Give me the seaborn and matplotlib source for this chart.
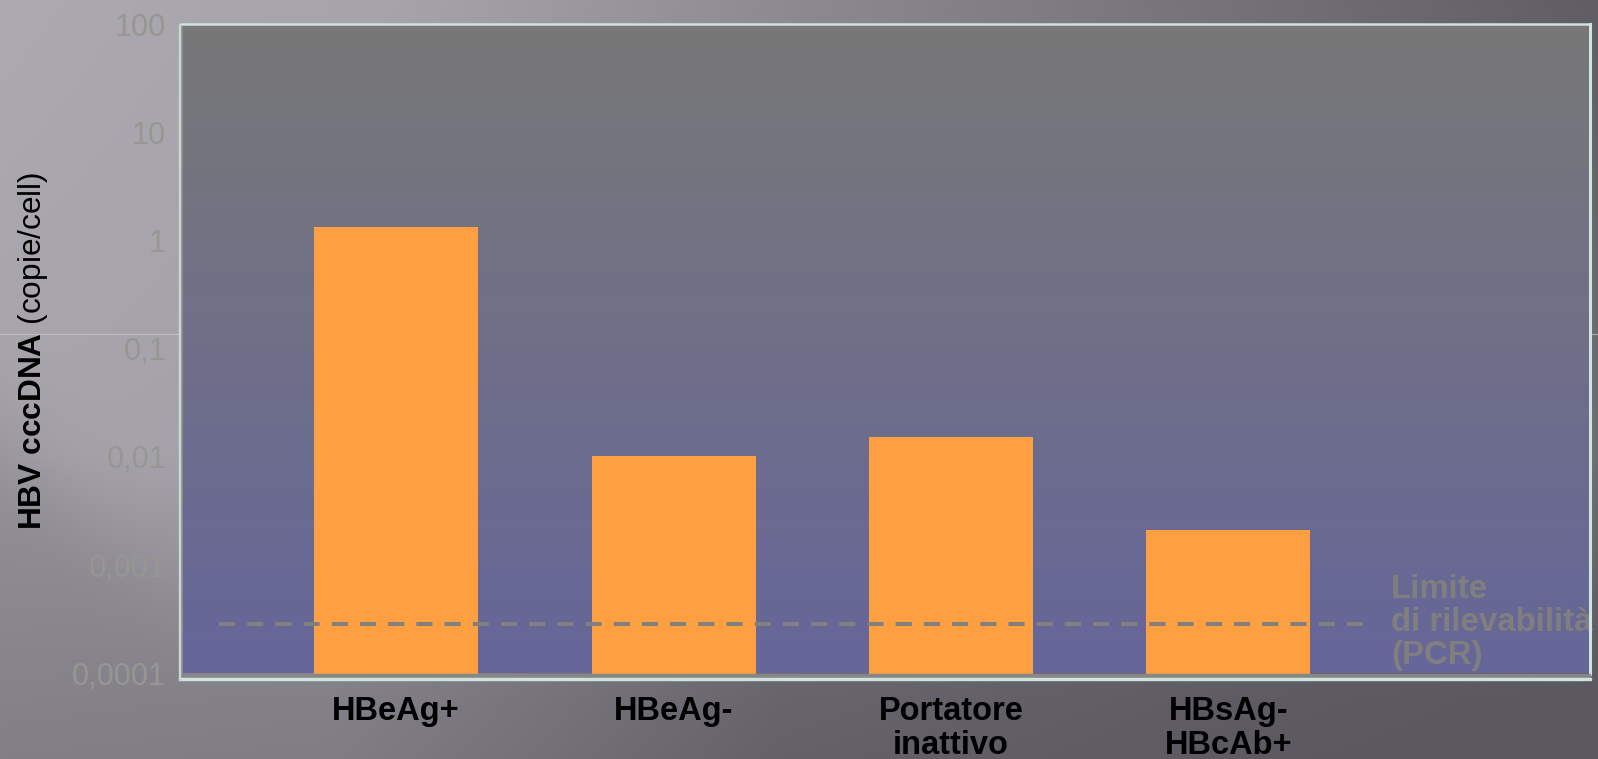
import numpy as np
import matplotlib
matplotlib.use("Agg")
import matplotlib.pyplot as plt
from matplotlib.patches import Rectangle
from matplotlib.ticker import NullLocator
import seaborn as sns

# ---- data -------------------------------------------------------------
categories = ["HBeAg+", "HBeAg-", "Portatore\ninattivo", "HBsAg-\nHBcAb+"]
cccdna_copies = [1.33, 0.0102, 0.0153, 0.00212]
detection_limit = 0.000286
limit_label = "Limite\ndi rilevabilità\n(PCR)"
y_ticks = [1e-4, 1e-3, 1e-2, 1e-1, 1, 10, 100]
y_tick_labels = ["0,0001", "0,001", "0,01", "0,1", "1", "10", "100"]
y_label = r"$\mathbf{HBV\ cccDNA}$ (copie/cell)"

# ---- fonts ------------------------------------------------------------
plt.rcParams["font.family"] = ["Liberation Sans", "DejaVu Sans"]
plt.rcParams["mathtext.fontset"] = "custom"
plt.rcParams["mathtext.rm"] = "Liberation Sans"
plt.rcParams["mathtext.bf"] = "Liberation Sans:bold"
plt.rcParams["mathtext.it"] = "Liberation Sans:italic"

W, H = 1598, 759
fig = plt.figure(figsize=(W / 100, H / 100), dpi=100)


def fx(px):
    return px / W


def fy(py):
    return 1 - py / H


# ---- slide background: grey gradient, light in the upper left -------------
gy, gx = np.mgrid[0:H:190j, 0:W:400j]
v = gy / H
top_row = np.interp(gx, [0, 400, 800, 1598], [172, 166, 140, 96])
bottom_row = np.interp(gx, [0, 330, 550, 780, 1300, 1598], [130, 128, 115, 100, 92, 90])
val = top_row + (bottom_row - top_row) * v
# lighter wedge on the left, above a diagonal fold
d = 0.762 * gx - 0.648 * (gy - 430)
ramp = np.clip(v / 0.6, 0, 1) * np.clip((0.92 - v) / 0.32, 0, 1)
val = val + 20 * ramp / (1 + np.exp(-d / 25))
bg = np.stack([val, val - 2, val + 4], axis=-1)
bg = np.clip(bg / 255, 0, 1)

ax_bg = fig.add_axes([0, 0, 1, 1])
ax_bg.imshow(bg, extent=[0, 1, 0, 1], aspect="auto", interpolation="bilinear")
ax_bg.set_xlim(0, 1); ax_bg.set_ylim(0, 1)
ax_bg.axhline(fy(334), color="#cfcfd2", lw=0.8, alpha=0.6)
ax_bg.set_axis_off()

# ---- plot area ---------------------------------------------------------
left, right, top, bottom = 181, 1590, 24, 673.5
rect = [fx(left), fy(bottom), (right - left) / W, (bottom - top) / H]

ax_grad = fig.add_axes(rect)
grad = np.linspace(0, 1, 256)[:, None, None]
top_c = np.array([120, 120, 120]) / 255
bot_c = np.array([102, 102, 154]) / 255
ax_grad.imshow(top_c + grad * (bot_c - top_c), extent=[0, 1, 0, 1], aspect="auto",
               interpolation="bilinear")
ax_grad.set_axis_off()

ax = fig.add_axes(rect)
ax.set_facecolor("none")
ax.set_yscale("log")

sns.barplot(x=categories, y=cccdna_copies, color="#fe9f41", saturation=1,
            width=0.591, errorbar=None, ax=ax, zorder=2)

ax.set_xlim(-0.775, 4.303)
ax.set_ylim(1e-4, 100)
ax.set_yticks(y_ticks)
ax.set_yticklabels(y_tick_labels)
ax.yaxis.set_minor_locator(NullLocator())
ax.set_xticks(range(len(categories)))
ax.set_xticklabels(categories, fontsize=23.5, fontweight="bold", color="black",
                   linespacing=1.12)
ax.set_xlabel("")
ax.set_ylabel("")
ax.tick_params(axis="both", length=0)
ax.tick_params(axis="y", pad=10.8, labelsize=22, labelcolor="#969693")
ax.tick_params(axis="x", pad=16.2)

# detection limit
ax.axhline(detection_limit, xmin=(219 - left) / (right - left),
           xmax=(1370 - left) / (right - left), color="#808080", lw=2.9,
           dashes=(4, 3), zorder=3)
ax.text(fx(1391), fy(574.5), limit_label, transform=fig.transFigure, ha="left",
        va="top", fontsize=23.8, fontweight="bold", color="#7f7f7f",
        linespacing=1.08, clip_on=False, zorder=1)

# frame
for side in ("top", "right"):
    ax.spines[side].set_color("#cfe4dc")
ax.spines["top"].set_linewidth(1.8)
ax.spines["right"].set_linewidth(2.2)
ax.spines["left"].set_color("#8c8c8c")
ax.spines["left"].set_linewidth(2.2)
ax.spines["bottom"].set_visible(False)

# floor strip under the bars and light outer edges
fig.patches.append(Rectangle((fx(left), fy(678)), (right - left) / W, 4.5 / H,
                             transform=fig.transFigure, color="#878787", zorder=5))
fig.patches.append(Rectangle((fx(178.5), fy(680)), (right + 1 - 178.5) / W, 2 / H,
                             transform=fig.transFigure, color="#cfe4dc", zorder=5))
fig.patches.append(Rectangle((fx(178.5), fy(680)), 1.1 / W, (680 - 24) / H,
                             transform=fig.transFigure, color="#c8d8d2", zorder=5))

# y-axis title
fig.text(fx(41), fy(351), y_label, rotation=90, rotation_mode="anchor",
         ha="center", va="baseline", fontsize=22.8, color="black")

fig.savefig("out.png", dpi=100)
